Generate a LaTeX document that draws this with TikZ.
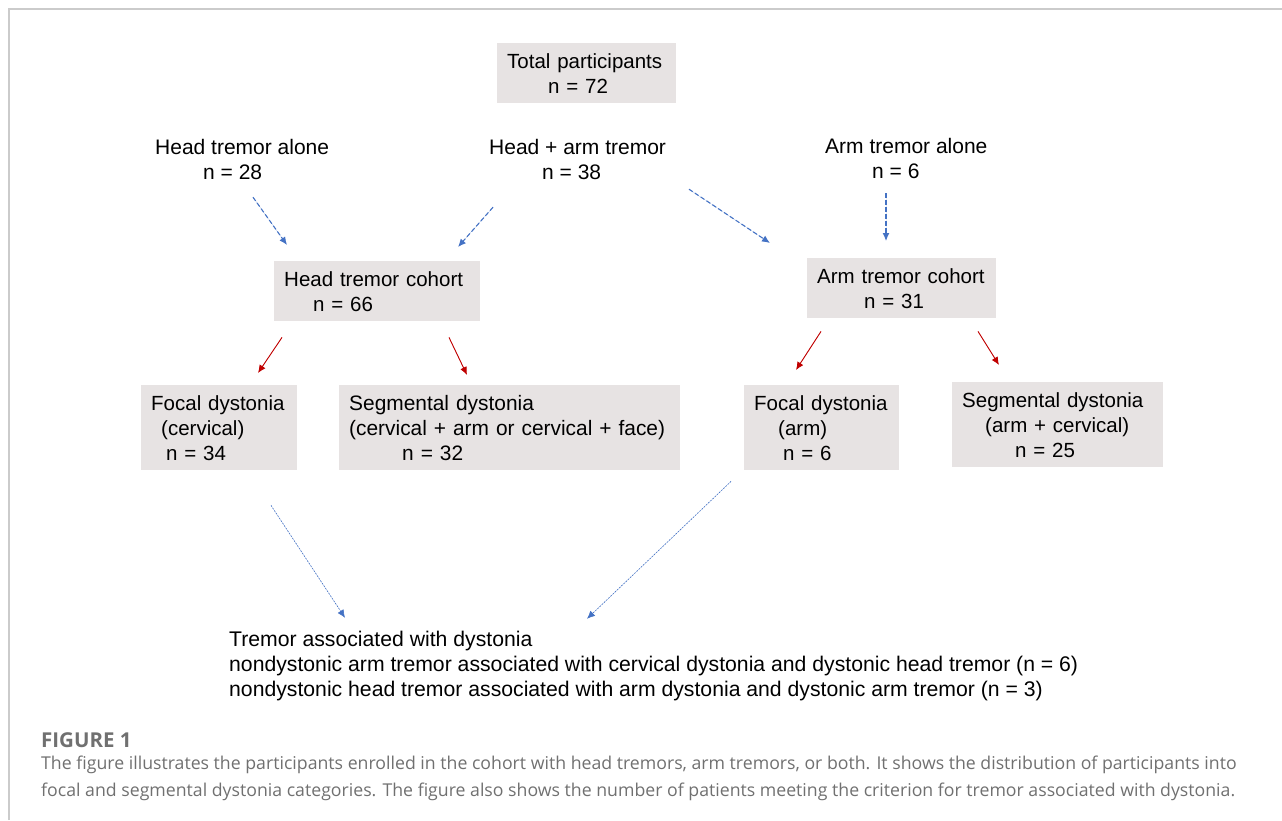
\documentclass[tikz,border=0pt]{standalone}
\usepackage{fontspec}
\setmainfont{Liberation Sans}
\newfontfamily\capfont{Open Sans}
\usepackage{xcolor}
\usepackage{tikz}
\usetikzlibrary{positioning,arrows.meta}

\definecolor{boxgray}{HTML}{E7E3E3}
\definecolor{arrowblue}{HTML}{4472C4}
\definecolor{arrowred}{HTML}{C00000}
\definecolor{framegray}{HTML}{CBCBCB}
\definecolor{capgray}{HTML}{707070}

\tikzset{
  countbox/.style 2 args={fill=boxgray, anchor=north west, align=left, inner xsep=10pt, inner ysep=0pt,
    text width=#1pt-20pt, minimum height=#2pt},
  countlabel/.style={anchor=west, align=left, inner sep=0pt, minimum height=50pt,
    font=\fontsize{21pt}{25pt}\selectfont},
  intake/.style={->, draw=arrowblue, fill=arrowblue, line width=1.1pt, dash pattern=on 4.5pt off 2.5pt},
  split/.style={->, draw=arrowred, fill=arrowred, line width=0.9pt},
  overlap/.style={->, draw=arrowblue, fill=arrowblue, line width=0.6pt, dash pattern=on 1.5pt off 1.5pt},
}

\begin{document}
\begin{tikzpicture}[x=1pt, y=-1pt, >={Latex[length=8pt,width=7pt]},
    font=\fontsize{20.5pt}{25pt}\selectfont]
  \useasboundingbox (0,0) rectangle (1282,820);
  \draw[framegray, line width=2pt] (9,820) -- (9,9) -- (1282,9);

  % top row
  \node[countbox={179}{60}] (total) at (497,43) {Total participants\\\hspace*{41pt}n = 72};
  \node[countlabel] (halone) at (155,159.5) {Head tremor alone\\\hspace*{48pt}n = 28};
  \node[countlabel] (harm) at (489,159.5) {Head + arm tremor\\\hspace*{53pt}n = 38};
  \node[countlabel] (aalone) at (825,158.5) {Arm tremor alone\\\hspace*{47pt}n = 6};

  % cohorts
  \node[countbox={206}{60}] (htc) at (274,261) {Head tremor cohort\\\hspace*{29pt}n = 66};
  \node[countbox={189}{60}] (atc) at (807,258) {Arm tremor cohort\\\hspace*{47pt}n = 31};

  % dystonia types
  \node[countbox={156}{85}] (fdc) at (141,385) {Focal dystonia\\\hspace*{10pt}(cervical)\\\hspace*{15pt}n = 34};
  \node[countbox={341}{85}, font=\fontsize{20.9pt}{25pt}\selectfont] (sdc) at (339,385)
    {Segmental dystonia\\(cervical + arm or cervical + face)\\\hspace*{53pt}n = 32};
  \node[countbox={155}{85}] (fda) at (744,385) {Focal dystonia\\\hspace*{24pt}(arm)\\\hspace*{29pt}n = 6};
  \node[countbox={211}{85}] (sda) at (952,382) {Segmental dystonia\\\hspace*{23pt}(arm + cervical)\\\hspace*{53pt}n = 25};

  \node[anchor=west, align=left, inner sep=0pt, minimum height=75pt,
    font=\fontsize{21.2pt}{25pt}\selectfont] (twd) at (229,666)
    {Tremor associated with dystonia\\
     nondystonic arm tremor associated with cervical dystonia and dystonic head tremor (n = 6)\\
     nondystonic head tremor associated with arm dystonia and dystonic arm tremor (n = 3)};

  % caption
  \node[anchor=west, inner sep=0pt, text=capgray, font=\capfont\bfseries\fontsize{20.5pt}{22pt}\selectfont] (figno) at (41,740) {FIGURE 1};
  \node[anchor=west, align=left, inner sep=0pt, text=capgray, font=\capfont\fontsize{17.7pt}{27pt}\selectfont] (caption) at (41,778.5)
    {The figure illustrates the participants enrolled in the cohort with head tremors, arm tremors, or both. It shows the distribution of participants into\\
     focal and segmental dystonia categories. The figure also shows the number of patients meeting the criterion for tremor associated with dystonia.};

  % connectors
  \draw[intake] ([shift={(98,12.5)}]halone.south west) -- ([shift={(13,-16)}]htc.north west);
  \draw[intake] ([shift={(4,22.5)}]harm.south west) -- ([shift={(184,-14)}]htc.north west);
  \draw[intake] ([shift={(200,4.5)}]harm.south west) -- ([shift={(-37,-15)}]atc.north west);
  \draw[intake] ([shift={(61,9.5)}]aalone.south west) -- ([shift={(79,-17)}]atc.north west);

  \draw[split] ([shift={(8,16)}]htc.south west) -- ([shift={(117,-12)}]fdc.north west);
  \draw[split] ([shift={(175,16)}]htc.south west) -- ([shift={(128,-10)}]sdc.north west);
  \draw[split] ([shift={(14,13)}]atc.south west) -- ([shift={(52,-15)}]fda.north west);
  \draw[split] ([shift={(171,13)}]atc.south west) -- ([shift={(47,-17)}]sda.north west);

  \draw[overlap] ([shift={(130,35)}]fdc.south west) -- ([shift={(116,-10.5)}]twd.north west);
  \draw[overlap] ([shift={(-13,11)}]fda.south west) -- ([shift={(358,-9.5)}]twd.north west);
\end{tikzpicture}
\end{document}
